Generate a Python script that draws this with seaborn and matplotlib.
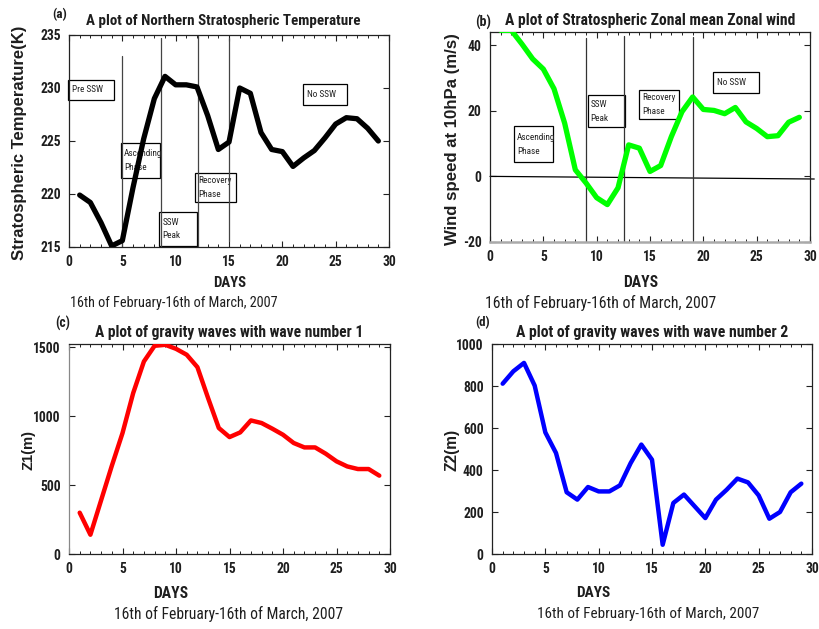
import matplotlib
matplotlib.use("Agg")
import matplotlib.pyplot as plt
from matplotlib import font_manager
from matplotlib.patches import Rectangle
import seaborn as sns
import pandas as pd
import numpy as np

days = list(range(1, 30))
temp = [219.9, 219.2, 217.3, 215.1, 215.6, 220.6, 225.2, 229.0, 231.1, 230.3,
        230.3, 230.1, 227.4, 224.2, 224.9, 230.0, 229.5, 225.8, 224.2, 224.0,
        222.6, 223.4, 224.1, 225.3, 226.6, 227.2, 227.1, 226.2, 225.0]
wind = [44.5, 44.5, 40.3, 35.8, 32.7, 26.7, 16.2, 2.0, -2.0, -6.5,
        -8.6, -3.5, 9.6, 8.6, 1.5, 3.3, 12.1, 19.7, 24.2, 20.4,
        20.1, 19.1, 21.0, 16.6, 14.6, 12.1, 12.4, 16.5, 18.0]
z1 = [300, 140, 390, 640, 878, 1169, 1398, 1512, 1519, 1490,
      1447, 1357, 1132, 915, 849, 883, 970, 951, 910, 866,
      806, 774, 774, 728, 673, 636, 617, 617, 569]
z2 = [811, 870, 910, 802, 579, 481, 294, 259, 319, 298,
      298, 327, 433, 521, 449, 44, 243, 283, 227, 171,
      259, 306, 359, 341, 279, 168, 200, 294, 335]

xticks = [0, 5, 10, 15, 20, 25, 30]
subtitle = "16th of February-16th of March, 2007"

sns.set_theme(style="ticks")

# pick a condensed family if one is installed
fl = font_manager.fontManager.ttflist
names = {f.name for f in fl}
NARROW, STRETCH = 'Liberation Sans', 'normal'
for cand in ['Liberation Sans Narrow', 'Roboto Condensed', 'Open Sans Condensed', 'Arial Narrow']:
    if cand in names:
        NARROW = cand
        break
else:
    if any(f.name == 'DejaVu Sans' and 'ondensed' in f.fname for f in fl):
        NARROW, STRETCH = 'DejaVu Sans', 'condensed'

plt.rcParams['font.family'] = [NARROW, 'DejaVu Sans']
plt.rcParams['font.stretch'] = STRETCH
plt.rcParams['axes.unicode_minus'] = False
plt.rcParams['axes.linewidth'] = 0.9

W, H = 819, 629
fig = plt.figure(figsize=(W / 100, H / 100), dpi=100)
R = fig.canvas.get_renderer()
TXT = '#1e1e1e'


def add_ax(l, t, r, b):
    return fig.add_axes([l / W, 1 - b / H, (r - l) / W, (b - t) / H])


def fit(x, y, s, length, rot=0, **kw):
    t = fig.text(x / W, 1 - y / H, s, ha='center', va='center', rotation=rot,
                 fontsize=10, color=kw.pop('color', TXT), **kw)
    bb = t.get_window_extent(R)
    cur = bb.height if rot else bb.width
    t.set_fontsize(10 * length / cur)
    return t


def measure(s, length, **kw):
    t = fig.text(0, 0, s, fontsize=10, **kw)
    w = t.get_window_extent(R).width
    t.remove()
    return 10 * length / w


TICK_FS = measure("1500", 27.5, fontweight='bold')
BOX_FS = measure("Pre SSW", 31)


def style(ax, yt, ylim):
    ax.set_xlim(0, 30)
    ax.set_ylim(*ylim)
    ax.set_xticks(xticks)
    ax.set_xticks(range(0, 31), minor=True)
    ax.set_yticks(yt)
    ax.tick_params(which='both', direction='in', top=True, right=True, colors='#222222')
    ax.tick_params(which='major', length=4, width=0.8, labelsize=TICK_FS, pad=6)
    ax.tick_params(which='minor', length=2.5, width=0.7)
    ax.tick_params(axis='y', which='minor', left=False, right=False)
    for lab in ax.get_xticklabels() + ax.get_yticklabels():
        lab.set_fontweight('bold')
        lab.set_color(TXT)
    ax.set_xlabel('')
    ax.set_ylabel('')
    for s in ax.spines.values():
        s.set_color('#222222')


def box(ax, x0, x1, y0, y1, text):
    ax.add_patch(Rectangle((x0, y0), x1 - x0, y1 - y0, facecolor='white',
                           edgecolor='black', linewidth=0.9, zorder=1.5, clip_on=False))
    ax.text(x0 + (x1 - x0) * 0.08, (y0 + y1) / 2, text, fontsize=BOX_FS, ha='left',
            va='center', color='#222222', zorder=1.6, linespacing=1.7)


WIDE = ['Liberation Sans', 'DejaVu Sans']

# ---------- (a)
df_a = pd.DataFrame({'day': days, 'val': temp})
ax = add_ax(69, 35, 389, 247)
sns.lineplot(data=df_a, x='day', y='val', color='black', linewidth=3.8, ax=ax, zorder=3)
style(ax, [215, 220, 225, 230, 235], (215, 235))
for x, y0, y1 in [(4.95, 215, 233), (8.62, 215, 234.7), (12.08, 215, 234.9), (15.03, 215.6, 234.7)]:
    ax.plot([x, x], [y0, y1], color='#444444', linewidth=0.9, zorder=2)
box(ax, -0.05, 4.25, 228.9, 230.8, "Pre SSW")
box(ax, 4.84, 8.53, 221.5, 224.85, "Ascending\nPhase")
box(ax, 8.47, 11.97, 215.1, 218.3, "SSW\nPeak")
box(ax, 11.81, 15.66, 219.2, 221.95, "Recovery\nPhase")
box(ax, 21.97, 26.1, 228.4, 230.4, "No SSW")
fit(223, 21, "A plot of Northern Stratospheric Temperature", 273, fontweight='bold')
fit(60, 15, "(a)", 15, fontweight='bold')
fit(20, 143, "Stratospheric Temperature(K)", 234, rot=90, fontweight='bold', family=WIDE)
fit(230, 283, "DAYS", 33, fontweight='bold')
fit(173.5, 303, subtitle, 207)

# ---------- (b)
df_b = pd.DataFrame({'day': days, 'val': wind})
ax = add_ax(490, 32, 810, 242)
sns.lineplot(data=df_b, x='day', y='val', color='#00ff00', linewidth=3.8, ax=ax, zorder=3)
style(ax, [-20, 0, 20, 40], (-20, 44))
ax.spines['bottom'].set_color('#aaaaaa')
ax.spines['bottom'].set_linewidth(1.8)
ax.plot([0, 30.4], [0, -0.8], color='black', linewidth=0.9, zorder=2, clip_on=False)
for x, y0, y1 in [(8.97, -20, 42.1), (12.6, -20, 42.7), (19.0, -19.5, 42.4)]:
    ax.plot([x, x], [y0, y1], color='#333333', linewidth=0.9, zorder=2)
box(ax, 2.25, 5.9, 4.4, 15.3, "Ascending\nPhase")
box(ax, 9.16, 12.66, 15.0, 24.8, "SSW\nPeak")
box(ax, 14.0, 17.75, 17.6, 26.4, "Recovery\nPhase")
box(ax, 20.9, 25.2, 25.3, 31.7, "No SSW")
fit(650, 20, "A plot of Stratospheric Zonal mean Zonal wind", 290, fontweight='bold')
fit(483, 22, "(b)", 16, fontweight='bold')
fit(452, 139, "Wind speed at 10hPa (m/s)", 213, rot=90, fontweight='bold', family=WIDE)
fit(641, 282, "DAYS", 35, fontweight='bold')
fit(601, 303, subtitle, 229)

# ---------- (c)
df_c = pd.DataFrame({'day': days, 'val': z1})
ax = add_ax(69, 344, 390, 554)
sns.lineplot(data=df_c, x='day', y='val', color='#ff0000', linewidth=3.2, ax=ax, zorder=3)
style(ax, [0, 500, 1000, 1500], (0, 1525))
ax.spines['left'].set_color('#888888')
fit(229, 332, "A plot of gravity waves with wave number 1", 269, fontweight='bold')
fit(63, 323, "(c)", 15, fontweight='bold')
fit(28, 450, "Z1(m)", 40, rot=90, fontweight='bold', family=WIDE)
fit(171, 593, "DAYS", 35, fontweight='bold')
fit(229, 614, subtitle, 228)

# ---------- (d)
df_d = pd.DataFrame({'day': days, 'val': z2})
ax = add_ax(492, 344, 812, 554)
sns.lineplot(data=df_d, x='day', y='val', color='#0000ff', linewidth=3.2, ax=ax, zorder=3)
style(ax, [0, 200, 400, 600, 800, 1000], (0, 1000))
fit(652, 332, "A plot of gravity waves with wave number 2", 272, fontweight='bold')
fit(483, 323, "(d)", 15, fontweight='bold')
fit(452, 450, "Z2(m)", 42, rot=90, fontweight='bold', family=WIDE)
fit(593, 593, "DAYS", 34, fontweight='bold')
fit(648, 614, subtitle, 220)

fig.savefig("out.png", dpi=100)
